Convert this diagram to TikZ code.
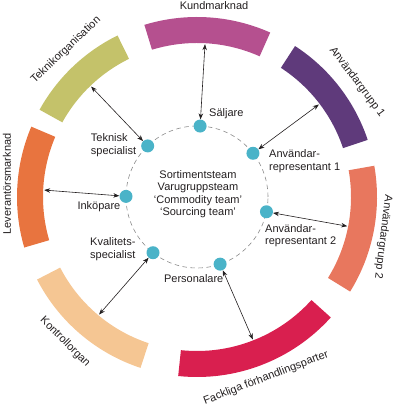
\documentclass[tikz,border=0pt]{standalone}
\usepackage{fontspec}
\setmainfont{Liberation Sans}
\usetikzlibrary{arrows.meta,calc}
\definecolor{kund}{HTML}{B5508F}
\definecolor{anvA}{HTML}{5F3A7B}
\definecolor{anvB}{HTML}{E8775E}
\definecolor{fack}{HTML}{D91F4F}
\definecolor{kontr}{HTML}{F5C693}
\definecolor{lev}{HTML}{E8743F}
\definecolor{tekn}{HTML}{C4C26A}
\definecolor{dotc}{HTML}{4AB3C8}
\definecolor{txt}{HTML}{231F20}
\definecolor{dashc}{HTML}{8A8A8A}
\newcommand\ringseg[3]{\fill[#3] ([shift={(C)}]#1:154pt) arc[start angle=#1,end angle=#2,radius=154pt] -- ([shift={(C)}]#2:180pt) arc[start angle=#2,end angle=#1,radius=180pt] -- cycle;}
\begin{document}
\begin{tikzpicture}[x=1pt,y=1pt,
  lbl/.style={font=\fontsize{11}{12.5}\selectfont, text=txt, inner sep=0pt},
  dot/.style={circle, fill=dotc, minimum size=13pt, inner sep=0pt},
  link/.style={{Stealth[length=6pt,width=4.5pt]}-{Stealth[length=6pt,width=4.5pt]}, line width=0.6pt, draw=txt}]
\useasboundingbox (0,0) rectangle (400,406);
\coordinate (C) at (197,209);
% ring segments
\ringseg{66}{107}{kund}
\ringseg{18.5}{57}{anvA}
\ringseg{-31.7}{10}{anvB}
\ringseg{264}{318}{fack}
\ringseg{207.3}{251.7}{kontr}
\ringseg{157}{196.3}{lev}
\ringseg{116.2}{151}{tekn}
% dashed circle
\draw[dashc, line width=0.6pt, dash pattern=on 4.5pt off 3.5pt] (C) circle[radius=71pt];
% dots
\node[dot] (sal) at ([shift={(C)}]87.5:71pt) {};
\node[dot] (tek) at ([shift={(C)}]134:71pt) {};
\node[dot] (rA) at ([shift={(C)}]38:71pt) {};
\node[dot] (ink) at ([shift={(C)}]179.5:71pt) {};
\node[dot] (rB) at ([shift={(C)}]-12:71pt) {};
\node[dot] (kva) at ([shift={(C)}]231.7:71pt) {};
\node[dot] (per) at ([shift={(C)}]289:71pt) {};
% arrow ends on ring
\coordinate (salE) at ([shift={(C)}]87:153pt);
\coordinate (tekE) at ([shift={(C)}]133.8:153pt);
\coordinate (rAE) at ([shift={(C)}]37.2:153pt);
\coordinate (inkE) at ([shift={(C)}]177.4:153pt);
\coordinate (rBE) at ([shift={(C)}]-11:153pt);
\coordinate (kvaE) at ([shift={(C)}]230.2:153pt);
\coordinate (perE) at ([shift={(C)}]291.4:153pt);
\draw[link] (sal) -- (salE);
\draw[link] (tek) -- (tekE);
\draw[link] (rA) -- (rAE);
\draw[link] (ink) -- (inkE);
\draw[link] (rB) -- (rBE);
\draw[link] (kva) -- (kvaE);
\draw[link] (per) -- (perE);
% outer labels
\node[lbl] (lKund) at (214,400.5) {Kundmarknad};
\node[lbl, rotate=43.6] (lTekn) at (66,356) {Teknikorganisation};
\node[lbl, rotate=-53] (lAnvA) at (357,324) {Användargrupp 1};
\node[lbl, rotate=-97] (lAnvB) at (383,169) {Användargrupp 2};
\node[lbl, rotate=21] (lFack) at (266,28) {Fackliga förhandlingsparter};
\node[lbl, rotate=-45] (lKontr) at (65,64) {Kontrollorgan};
\node[lbl, rotate=90] (lLev) at (7,222) {Leverantörsmarknad};
% inner labels
\node[lbl, anchor=west] (lSal) at (209,292) {Säljare};
\node[lbl, anchor=west, align=left] (lTek) at (90.7,261) {Teknisk\\specialist};
\node[lbl, anchor=west, align=left] (lRA) at (269,245) {Användar-\\representant 1};
\node[lbl, anchor=west] (lInk) at (77.3,199) {Inköpare};
\node[lbl, anchor=west, align=left] (lRB) at (265,170.5) {Användar-\\representant 2};
\node[lbl, anchor=west, align=left] (lKva) at (90,157) {Kvalitets-\\specialist};
\node[lbl] (lPer) at (193.7,127) {Personalare};
\node[lbl, align=center] (lCen) at (198,212) {Sortimentsteam\\Varugruppsteam\\‘Commodity team’\\‘Sourcing team’};
\end{tikzpicture}
\end{document}
